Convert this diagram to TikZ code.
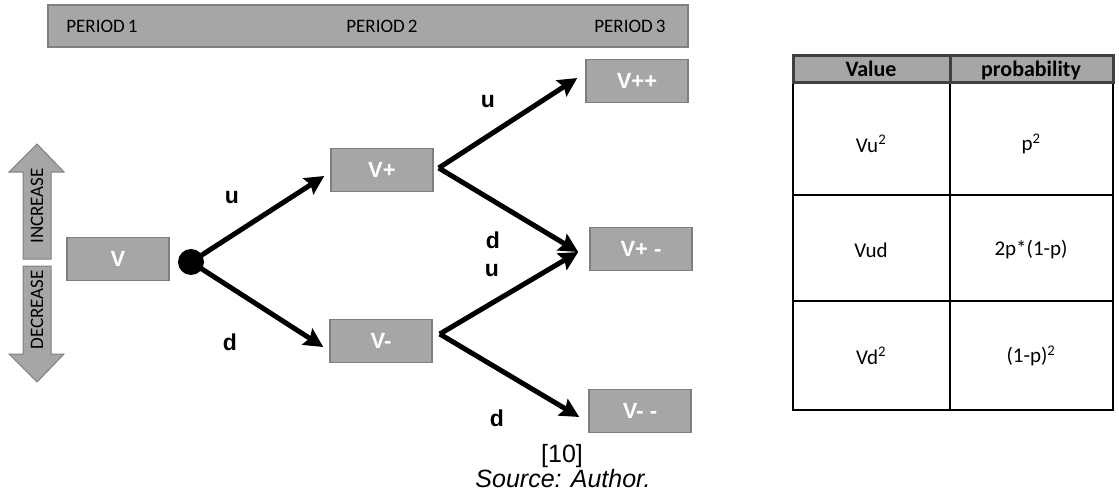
\documentclass[tikz,border=0pt]{standalone}
\usepackage{fontspec}
\setmainfont{Liberation Sans}
\newfontfamily\calibri{Carlito}
\usepackage{tikz}
\usetikzlibrary{arrows.meta}
\usetikzlibrary{positioning}
\tikzset{state/.style = {draw=mgrayline, line width=1.5pt, fill=mgray,
                         minimum width=102pt, minimum height=43pt, inner sep=0pt,
                         text=white, font=\fontsize{22}{24}\selectfont\bfseries},
         branch/.style = {line width=5pt,
                          -{Stealth[length=19pt, width=19pt, inset=3pt]}},
         lbl/.style = {font=\fontsize{23}{26}\selectfont\bfseries},
         cell/.style = {font=\calibri\fontsize{21}{24}\selectfont},
         head/.style = {font=\calibri\fontsize{22}{24}\selectfont\bfseries, anchor=base},
         period/.style = {font=\calibri\fontsize{19}{22}\selectfont}}
\definecolor{mgray}{RGB}{166, 166, 166}
\definecolor{mgrayline}{RGB}{127, 127, 127}
\definecolor{mdark}{RGB}{64, 64, 64}

\begin{document}
\begin{tikzpicture}[x=1pt, y=-1pt]
    \useasboundingbox (0, 0) rectangle (1119, 500);

    % periods
    \draw [mgrayline, line width=1.5pt, fill=mgray] (48, 5) rectangle (688, 47);
    \node [period] (p1) at (102, 26) {PERIOD\,1};
    \node [period] (p2) at (382, 26) {PERIOD\,2};
    \node [period] (p3) at (630, 26) {PERIOD\,3};

    % increase / decrease
    \draw [mgrayline, line width=1pt, fill=mgray] (23, 259) -- (23, 172) -- (9, 172) -- (37, 144)
        -- (64, 172) -- (51, 172) -- (51, 259) -- cycle;
    \draw [mgrayline, line width=1pt, fill=mgray] (23, 266) -- (23, 354) -- (9, 354) -- (37, 382)
        -- (64, 354) -- (51, 354) -- (51, 266) -- cycle;
    \node [period, rotate=90] (inc) at (37, 206) {INCREASE};
    \node [period, rotate=90] (dec) at (37, 310) {DECREASE};

    % tree
    \node [state] (v) at (118, 259) {V};
    \node [state] (vp) at (382, 170) {V+};
    \node [state] (vm) at (381, 341) {V-};
    \node [state] (vpp) at (637, 81) {V++};
    \node [state] (vpm) at (641, 249) {V+ -};
    \node [state] (vmm) at (640, 411) {V- -};
    \node [circle, fill=black, minimum size=26pt, inner sep=0pt] (root) at (191, 262) {};
    \coordinate (vpfork) at ([xshift=5pt, yshift=2pt]vp.east);
    \coordinate (vmfork) at ([xshift=7pt, yshift=7pt]vm.east);

    \draw [branch] (root.center) -- ([xshift=-6pt, yshift=-6pt]vp.west);
    \draw [branch] (root.center) -- ([xshift=-6pt, yshift=-6pt]vm.west);
    \draw [branch] (vpfork) -- ([xshift=-8pt, yshift=3pt]vpp.west);
    \draw [branch] (vpfork) -- ([xshift=-11pt, yshift=-3pt]vpm.west);
    \draw [branch] (vmfork) -- ([xshift=-11pt, yshift=-3pt]vpm.west);
    \draw [branch] (vmfork) -- ([xshift=-9pt, yshift=-6pt]vmm.west);

    \node [lbl] (u1) at (232, 198) {u};
    \node [lbl] (d1) at (230, 342) {d};
    \node [lbl] (u2) at (488, 102) {u};
    \node [lbl] (d2) at (493, 240) {d};
    \node [lbl] (u3) at (492, 271) {u};
    \node [lbl] (d3) at (497, 418) {d};

    \node [font=\fontsize{25}{27}\selectfont] (ref) at (562, 456) {[10]};
    \node [font=\fontsize{25}{27}\selectfont\itshape] (src) at (563, 479) {Source: Author.};

    % table
    \draw [line width=2pt] (793, 83) rectangle (1113, 410);
    \draw [line width=2pt] (950, 83) -- (950, 410);
    \draw [line width=2pt] (793, 195) -- (1113, 195);
    \draw [line width=2pt] (793, 301) -- (1113, 301);
    \draw [mdark, line width=3pt, fill=mgray] (793, 56) rectangle (1113, 83);
    \draw [mdark, line width=3pt] (950, 56) -- (950, 83);
    \node [head] (hval) at (871, 77) {Value};
    \node [head] (hprob) at (1031, 77) {probability};
    \node [cell] (c11) at (871, 144) {Vu\textsuperscript{2}};
    \node [cell] (c12) at (1031, 144) {p\textsuperscript{2}};
    \node [cell] (c21) at (871, 250) {Vud};
    \node [cell] (c22) at (1031, 250) {2p*(1-p)};
    \node [cell] (c31) at (871, 356) {Vd\textsuperscript{2}};
    \node [cell] (c32) at (1031, 356) {(1-p)\textsuperscript{2}};
\end{tikzpicture}
\end{document}
